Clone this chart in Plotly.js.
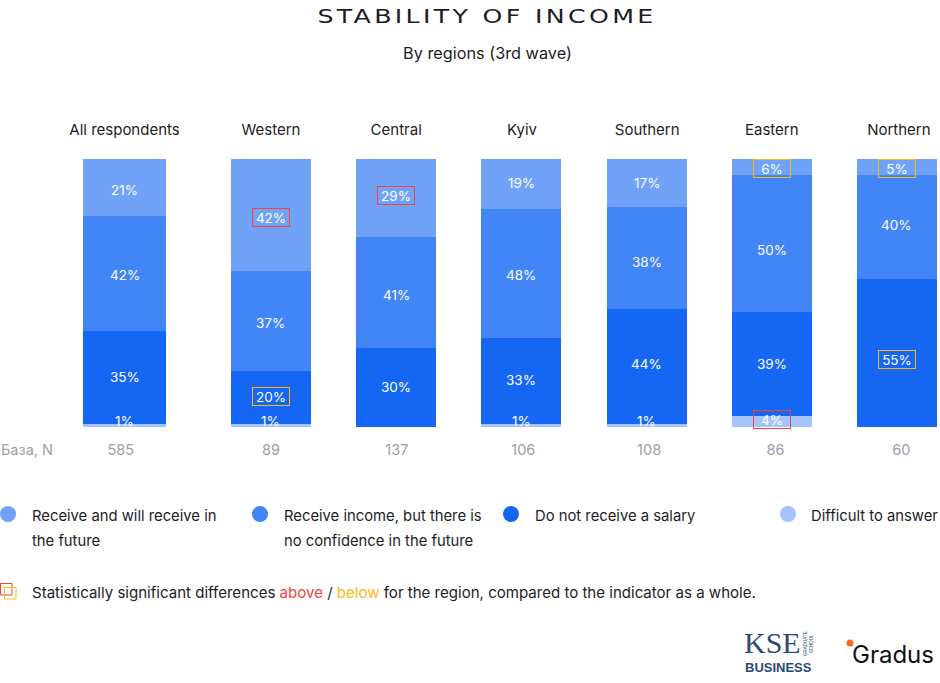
<!DOCTYPE html>
<html><head><meta charset="utf-8">
<script src="https://cdn.plot.ly/plotly-3.0.1.min.js"></script>
<style>html,body{margin:0;padding:0;background:#fff}#c{width:940px;height:683px}
.gtitle{letter-spacing:2.5px;transform-box:fill-box;transform-origin:center;transform:scaleX(1.33)}</style></head>
<body><div id="c"></div>
<script>
const regions = ["All respondents","Western","Central","Kyiv","Southern","Eastern","Northern"];
const baseN = ["585","89","137","106","108","86","60"];
const slots = [0,1.17,2.17,3.17,4.17,5.17,6.17];
const barWidths = [0.663,0.639,0.639,0.639,0.639,0.639,0.639];
const regionSlots = [0,1.17,2.17,3.175,4.175,5.17,6.185];
const baseSlots = [-0.03,1.17,2.175,3.185,4.19,5.2,6.205];

const willReceive   = [21.3,41.8,29.1,18.7,17.9,6.0,6.0];
const noConfidence  = [42.9,37.3,41.4,48.1,38.1,51.1,38.8];
const noSalary      = [34.7,19.8,29.5,32.1,42.9,38.8,55.2];
const difficult     = [1.1,1.1,0,1.1,1.1,4.1,0];

const willLabels  = ["21%","42%","29%","19%","17%","6%","5%"];
const confLabels  = ["42%","37%","41%","48%","38%","50%","40%"];
const salaryLabels= ["35%","20%","30%","33%","44%","39%","55%"];
const diffLabels  = ["1%","1%","","1%","1%","4%",""];

const willFlags   = ["","a","a","","","b","b"];
const confFlags   = ["","","","","","",""];
const salaryFlags = ["","b","","","","","b"];
const diffFlags   = ["","","","","","a",""];

const willNudge   = [-2,-2,2,1,0,-1,-1];
const confNudge   = [-1,-2,-3,-1,-4,-6,2];
const salaryNudge = [1,1,0,1,3,0,-6];
const diffNudge   = [5,5,0,5,5,2,0];

const colWill="#70a3f8", colConf="#4285f7", colSalary="#1567f3", colDiff="#a5c4fb";
const red="#f0453a", yellow="#fdb813", ink="#1d1d1f", grey="#9aa0aa";
const FONT="Inter";

const W=940,H=683,plotTop=159,plotBottom=427;
const px=x=>x/W, py=y=>1-y/H;
const stackOrder=[
 {name:"Difficult to answer",v:difficult,c:colDiff,l:diffLabels,f:diffFlags,n:diffNudge},
 {name:"Do not receive a salary",v:noSalary,c:colSalary,l:salaryLabels,f:salaryFlags,n:salaryNudge},
 {name:"Receive income, but there is no confidence in the future",v:noConfidence,c:colConf,l:confLabels,f:confFlags,n:confNudge},
 {name:"Receive and will receive in the future",v:willReceive,c:colWill,l:willLabels,f:willFlags,n:willNudge}
];
const traces=stackOrder.map(s=>({type:"bar",name:s.name,x:slots,y:s.v,width:barWidths,
  marker:{color:s.c,line:{width:0}},hoverinfo:"name+y"}));
// invisible carrier so the second axis (base sizes) is drawn
traces.push({type:"scatter",mode:"markers",x:slots,y:slots.map(()=>0),xaxis:"x2",yaxis:"y",marker:{opacity:0},hoverinfo:"skip",showlegend:false});

const ann=[];
const cum=slots.map(()=>0);
stackOrder.forEach(s=>{
  s.v.forEach((v,i)=>{
    const mid=cum[i]+v/2; cum[i]+=v;
    if(!s.l[i])return;
    const a={xref:"x",yref:"y",x:slots[i],y:mid,yshift:s.n[i],text:s.l[i],showarrow:false,
      font:{family:FONT,size:13.5,color:"#fff"},xanchor:"center",yanchor:"middle"};
    if(s.f[i]){a.bordercolor=s.f[i]=="a"?red:yellow;a.borderwidth=1;a.borderpad=0;a.width=36;a.height=17;a.align="center";a.valign="middle";}
    ann.push(a);
  });
});
function txt(x,y,t,o={}){ann.push(Object.assign({xref:"paper",yref:"paper",x:px(x),y:py(y),text:t,showarrow:false,xanchor:"left",yanchor:"middle",
  font:Object.assign({family:FONT,size:14.8,color:ink},o.font||{})},o.extra||{}));}
txt(487,53,"By regions (3rd wave)",{font:{size:16.3},extra:{xanchor:"center"}});
txt(-1,449.5,"База, N",{font:{size:14.5,color:grey}});
const legendLines=[[30,516,"Receive and will receive in"],[30,541,"the future"],[282,516,"Receive income, but there is"],[282,541,"no confidence in the future"],[533,516,"Do not receive a salary"],[809,516,"Difficult to answer"]];
legendLines.forEach(l=>txt(l[0],l[1],l[2]));
txt(30,592,`Statistically significant differences <span style="color:${red}">above</span> / <span style="color:${yellow}">below</span> for the region, compared to the indicator as a whole.`,{font:{size:15.05}});
// logos as text
ann.push({xref:"paper",yref:"paper",x:px(742),y:py(642),text:"KSE",showarrow:false,xanchor:"left",yanchor:"middle",font:{family:"Liberation Serif",size:30,color:"#2c4a74"}});
ann.push({xref:"paper",yref:"paper",x:px(743),y:py(667),text:"<b>BUSINESS</b>",showarrow:false,xanchor:"left",yanchor:"middle",font:{family:"Liberation Sans",size:13,color:"#2c4a74"}});
ann.push({xref:"paper",yref:"paper",x:px(808),y:py(644),text:"GRADUATE<br>SCHOOL",textangle:-90,showarrow:false,xanchor:"center",yanchor:"middle",font:{family:"Liberation Sans",size:4.5,color:"#2c4a74"}});
ann.push({xref:"paper",yref:"paper",x:px(850),y:py(654),text:"Gradus",showarrow:false,xanchor:"left",yanchor:"middle",font:{family:"Inter",size:24,color:"#111"}});

function circle(cx,cy,r,c){return {type:"circle",xref:"paper",yref:"paper",x0:px(cx-r),x1:px(cx+r),y0:py(cy+r),y1:py(cy-r),fillcolor:c,line:{width:0}};}
function box(x0,y0,x1,y1,c){return {type:"rect",xref:"paper",yref:"paper",x0:px(x0),x1:px(x1),y0:py(y1),y1:py(y0),line:{color:c,width:1},fillcolor:"rgba(0,0,0,0)"};}
const shapes=[circle(8,514,8,colWill),circle(260,514,8,colConf),circle(511,514,8,colSalary),circle(788,514,8,colDiff),
 box(0.5,583.5,12,595,red),box(4.5,587.5,16,599,yellow),circle(850,643,3.5,"#f26b21")];

const xRange=[-0.9944,6.5136];
const layout={width:W,height:H,margin:{l:0,r:0,t:0,b:0},paper_bgcolor:"#fff",plot_bgcolor:"#fff",showlegend:false,barmode:"stack",
 title:{text:"STABILITY OF INCOME",x:487/W,xanchor:"center",y:py(16),yanchor:"middle",yref:"paper",font:{family:"DejaVu Sans",size:19,color:ink}},
 xaxis:{range:xRange,side:"top",anchor:"y",tickmode:"array",tickvals:regionSlots,ticktext:regions,ticks:"outside",ticklen:17,tickcolor:"rgba(0,0,0,0)",showgrid:false,zeroline:false,showline:false,tickfont:{family:FONT,size:15,color:ink},automargin:false},
 xaxis2:{range:xRange,overlaying:"x",side:"bottom",anchor:"y",tickmode:"array",tickvals:baseSlots,ticktext:baseN,ticks:"outside",ticklen:10,tickcolor:"rgba(0,0,0,0)",showgrid:false,zeroline:false,showline:false,tickfont:{family:FONT,size:14.5,color:grey},automargin:false},
 yaxis:{range:[0,100],domain:[py(plotBottom),py(plotTop)],visible:false,fixedrange:true},
 annotations:ann,shapes:shapes};
Plotly.newPlot("c",traces,layout,{displayModeBar:false,staticPlot:true});
</script></body></html>
